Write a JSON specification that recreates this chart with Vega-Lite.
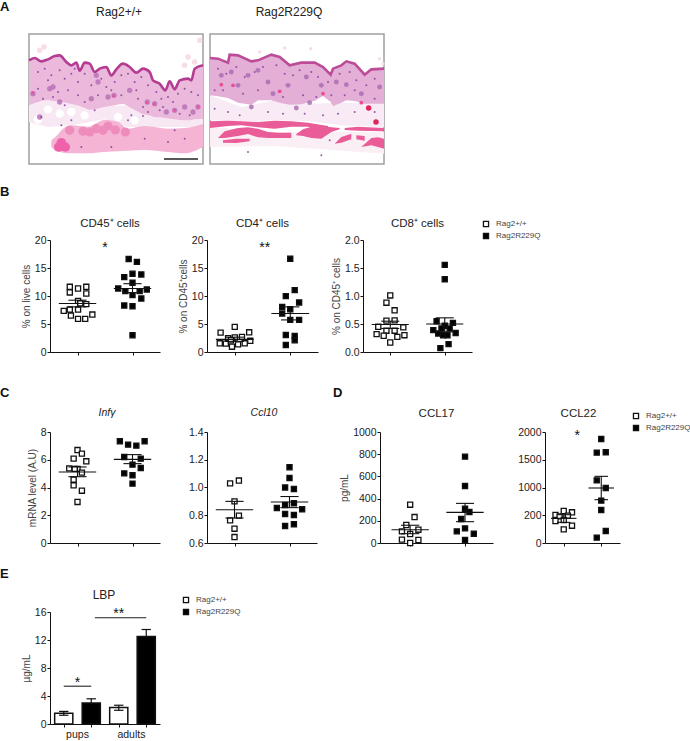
{"$schema":"https://vega.github.io/schema/vega-lite/v6.json","padding":0,"background":"white","spacing":0,
"config":{"view":{"stroke":null},"font":"Liberation Sans","axis":{"grid":false,"labelFont":"Liberation Sans","labelFontSize":10.5,"labelColor":"#222","titleFont":"Liberation Sans","titleFontSize":10,"titleColor":"#444","titleFontWeight":"normal","domainColor":"#111","tickColor":"#111","tickSize":3,"labelPadding":1,"titlePadding":3},"title":{"font":"Liberation Sans","fontSize":11.5,"fontWeight":"normal","color":"#222","offset":6},"legend":{"labelFont":"Liberation Sans","labelFontSize":8,"labelColor":"#444","symbolType":"square","symbolSize":26,"symbolStrokeColor":"#111","symbolStrokeWidth":1.3,"rowPadding":0,"labelOffset":6,"padding":0}},
"datasets":{
"a1s":[{"x":3,"t":85,"b":220},{"x":20,"t":78,"b":214},{"x":40,"t":88,"b":208},{"x":60,"t":82,"b":205},{"x":80,"t":72,"b":208},{"x":95,"t":70,"b":209},{"x":115,"t":90,"b":213},{"x":130,"t":100,"b":216},{"x":145,"t":92,"b":219},{"x":155,"t":116,"b":222},{"x":170,"t":92,"b":228},{"x":185,"t":95,"b":233},{"x":200,"t":120,"b":232},{"x":215,"t":110,"b":228},{"x":235,"t":105,"b":224},{"x":250,"t":130,"b":222},{"x":265,"t":112,"b":219},{"x":285,"t":95,"b":216},{"x":305,"t":105,"b":226},{"x":325,"t":122,"b":236},{"x":345,"t":110,"b":246},{"x":365,"t":120,"b":250},{"x":375,"t":145,"b":254},{"x":395,"t":155,"b":256},{"x":412,"t":175,"b":258},{"x":425,"t":148,"b":260},{"x":440,"t":172,"b":262},{"x":455,"t":145,"b":264},{"x":480,"t":140,"b":265},{"x":490,"t":145,"b":264},{"x":500,"t":110,"b":262},{"x":525,"t":100,"b":260}],
"a2s":[{"x":6,"t":78,"b":190},{"x":30,"t":80,"b":193},{"x":60,"t":92,"b":198},{"x":65,"t":68,"b":200},{"x":90,"t":70,"b":212},{"x":130,"t":88,"b":218},{"x":150,"t":85,"b":205},{"x":190,"t":68,"b":205},{"x":215,"t":75,"b":212},{"x":245,"t":100,"b":218},{"x":280,"t":92,"b":217},{"x":320,"t":92,"b":206},{"x":345,"t":105,"b":192},{"x":368,"t":128,"b":210},{"x":375,"t":110,"b":222},{"x":400,"t":100,"b":212},{"x":415,"t":88,"b":205},{"x":440,"t":95,"b":207},{"x":470,"t":128,"b":215},{"x":490,"t":112,"b":215},{"x":528,"t":110,"b":215}]
},
"bounds":"flush",
"resolve":{"scale":{"fill":"independent"},"legend":{"fill":"independent"}},
"vconcat":[
{"width":1,"height":34,"mark":{"type":"text","text":""},"data":{"values":[{}]},"encoding":{}},
{"spacing":0,"bounds":"flush","hconcat":[
{"width":29,"height":130,"data":{"values":[{"x":0,"y":-27,"t":"A"}]},"mark":{"type":"text","fontWeight":"bold","fontSize":13,"align":"left","color":"#111"},"encoding":{"x":{"field":"x","type":"quantitative","scale":{"domain":[0,29]},"axis":null},"y":{"field":"y","type":"quantitative","scale":{"domain":[130,0]},"axis":null},"text":{"field":"t"}}},
{"width":174,"height":130,"view":{"stroke":"#a0a0a0","strokeWidth":1.5},"title":{"text":"Rag2+/+","fontSize":12,"offset":15,"dx":3},
"encoding":{"x":{"field":"x","type":"quantitative","scale":{"domain":[3,525]},"axis":null},"y":{"field":"y","type":"quantitative","scale":{"domain":[396,6]},"axis":null}},
"layer":[
{"data":{"values":[{"x":3,"y":220,"y2":270},{"x":60,"y":205,"y2":285},{"x":130,"y":216,"y2":280},{"x":230,"y":224,"y2":262},{"x":300,"y":220,"y2":285},{"x":525,"y":260,"y2":285}]},"mark":{"type":"area","color":"#f7e8f3"},"encoding":{"y2":{"field":"y2"}}},
{"data":{"values":[{"x":130,"y":240},{"x":60,"y":232},{"x":170,"y":250},{"x":320,"y":265},{"x":95,"y":245},{"x":270,"y":255},{"x":30,"y":262}]},"mark":{"type":"point","filled":true,"color":"#ffffff","opacity":1,"size":70}},
{"data":{"values":[{"x":35,"y":55},{"x":480,"y":75},{"x":500,"y":90},{"x":515,"y":25},{"x":470,"y":100},{"x":48,"y":45}]},"mark":{"type":"point","filled":true,"color":"#f7dcea","opacity":1,"size":30}},
{"data":{"name":"a1s"},"mark":{"type":"area","color":"#ebb9db","interpolate":"monotone"},"encoding":{"y":{"field":"t","type":"quantitative","scale":{"domain":[396,6]},"axis":null},"y2":{"field":"b"}}},
{"data":{"values":[{"x":70,"y":325,"y2":345},{"x":85,"y":312,"y2":358},{"x":105,"y":290,"y2":362},{"x":130,"y":280,"y2":364},{"x":180,"y":284,"y2":364},{"x":230,"y":264,"y2":360},{"x":270,"y":270,"y2":358},{"x":300,"y":290,"y2":356},{"x":350,"y":282,"y2":354},{"x":420,"y":290,"y2":360},{"x":470,"y":288,"y2":364},{"x":525,"y":276,"y2":345}]},"mark":{"type":"area","color":"#f6b4d4","interpolate":"monotone"},"encoding":{"y2":{"field":"y2"}}},
{"data":{"values":[{"x":125,"y":295},{"x":165,"y":298},{"x":205,"y":290},{"x":240,"y":282},{"x":262,"y":294},{"x":292,"y":300},{"x":185,"y":300},{"x":225,"y":295}]},"mark":{"type":"point","filled":true,"color":"#ee8cbc","opacity":1,"size":85}},
{"data":{"values":[{"x":100,"y":332},{"x":112,"y":345},{"x":92,"y":345}]},"mark":{"type":"point","filled":true,"color":"#ee62aa","opacity":1,"size":90}},
{"data":{"name":"a1s"},"mark":{"type":"line","color":"#b43c92","strokeWidth":2.6,"interpolate":"monotone"},"encoding":{"y":{"field":"t","type":"quantitative","scale":{"domain":[396,6]},"axis":null}}},
{"data":{"values":[{"x":15,"y":185},{"x":65,"y":170},{"x":75,"y":165},{"x":190,"y":200},{"x":240,"y":195},{"x":258,"y":190},{"x":305,"y":175},{"x":358,"y":210},{"x":380,"y":215},{"x":440,"y":235},{"x":470,"y":225},{"x":510,"y":225},{"x":415,"y":240},{"x":495,"y":240},{"x":205,"y":130},{"x":210,"y":150},{"x":95,"y":210},{"x":35,"y":255}]},"mark":{"type":"point","filled":true,"color":"#b872b8","opacity":0.85,"size":28}},
{"data":{"values":[{"x":14,"y":182},{"x":356,"y":212},{"x":378,"y":216},{"x":510,"y":224},{"x":256,"y":192},{"x":440,"y":235}]},"mark":{"type":"point","filled":true,"color":"#ee4f9a","opacity":1,"size":7}},
{"data":{"values":[{"x":30,"y":120},{"x":50,"y":110},{"x":70,"y":130},{"x":95,"y":115},{"x":110,"y":140},{"x":130,"y":125},{"x":150,"y":150},{"x":170,"y":125},{"x":190,"y":160},{"x":220,"y":140},{"x":235,"y":165},{"x":260,"y":150},{"x":280,"y":130},{"x":300,"y":125},{"x":320,"y":150},{"x":340,"y":135},{"x":360,"y":160},{"x":385,"y":180},{"x":400,"y":200},{"x":420,"y":195},{"x":450,"y":185},{"x":470,"y":170},{"x":490,"y":180},{"x":510,"y":190},{"x":30,"y":170},{"x":45,"y":200},{"x":90,"y":180},{"x":120,"y":175},{"x":150,"y":190},{"x":170,"y":210},{"x":210,"y":190},{"x":280,"y":190},{"x":330,"y":200},{"x":345,"y":225},{"x":395,"y":235},{"x":455,"y":245},{"x":485,"y":250},{"x":40,"y":255},{"x":110,"y":220},{"x":130,"y":265},{"x":200,"y":235},{"x":310,"y":250},{"x":345,"y":252},{"x":360,"y":240},{"x":300,"y":265},{"x":100,"y":280},{"x":440,"y":295},{"x":350,"y":320},{"x":470,"y":320},{"x":160,"y":345},{"x":250,"y":345},{"x":420,"y":330},{"x":60,"y":145},{"x":140,"y":110},{"x":250,"y":175},{"x":325,"y":175},{"x":75,"y":195},{"x":435,"y":210},{"x":405,"y":225}]},"mark":{"type":"point","filled":true,"color":"#83409a","opacity":0.85,"size":4}},
{"data":{"values":[{"x":408,"x2":510,"y":381}]},"mark":{"type":"rule","color":"#222","strokeWidth":1.5},"encoding":{"x2":{"field":"x2"}}}
]},
{"width":7,"height":10,"mark":{"type":"text","text":""},"data":{"values":[{}]},"encoding":{}},
{"width":174,"height":130,"view":{"stroke":"#a0a0a0","strokeWidth":1.5},"title":{"text":"Rag2R229Q","fontSize":12,"offset":15,"dx":-8},
"encoding":{"x":{"field":"x","type":"quantitative","scale":{"domain":[6,528]},"axis":null},"y":{"field":"y","type":"quantitative","scale":{"domain":[396,6]},"axis":null}},
"layer":[
{"data":{"values":[{"x":6,"y":190,"y2":265},{"x":100,"y":225,"y2":268},{"x":200,"y":205,"y2":265},{"x":300,"y":215,"y2":268},{"x":400,"y":212,"y2":280},{"x":528,"y":215,"y2":285}]},"mark":{"type":"area","color":"#f8ebf5"},"encoding":{"y2":{"field":"y2"}}},
{"data":{"values":[{"x":6,"y":285,"y2":345},{"x":200,"y":300,"y2":342},{"x":528,"y":300,"y2":365}]},"mark":{"type":"area","color":"#fbeff6"},"encoding":{"y2":{"field":"y2"}}},
{"data":{"values":[{"x":155,"y":60},{"x":230,"y":48},{"x":308,"y":50},{"x":515,"y":80},{"x":525,"y":95}]},"mark":{"type":"point","filled":true,"color":"#f7dcea","opacity":1,"size":12}},
{"data":{"name":"a2s"},"mark":{"type":"area","color":"#e3afd6","interpolate":"linear"},"encoding":{"y":{"field":"t","type":"quantitative","scale":{"domain":[396,6]},"axis":null},"y2":{"field":"b"}}},
{"data":{"values":[{"k":"a","x":6,"y":268,"y2":288},{"k":"a","x":60,"y":266,"y2":282},{"k":"a","x":100,"y":268,"y2":280},{"k":"a","x":150,"y":270,"y2":286},{"k":"a","x":200,"y":266,"y2":290},{"k":"a","x":250,"y":268,"y2":284},{"k":"a","x":300,"y":272,"y2":284},{"k":"a","x":360,"y":282,"y2":298},{"k":"r","x":410,"y":288,"y2":294},{"k":"r","x":450,"y":284,"y2":296},{"k":"r","x":528,"y":288,"y2":298},{"k":"b","x":30,"y":318,"y2":318},{"k":"b","x":50,"y":298,"y2":318},{"k":"b","x":90,"y":288,"y2":312},{"k":"b","x":120,"y":286,"y2":306},{"k":"b","x":150,"y":290,"y2":316},{"k":"b","x":180,"y":300,"y2":318},{"k":"b","x":210,"y":302,"y2":318},{"k":"b","x":250,"y":302,"y2":318},{"k":"c","x":265,"y":306,"y2":310},{"k":"c","x":285,"y":292,"y2":312},{"k":"c","x":310,"y":284,"y2":318},{"k":"c","x":340,"y":282,"y2":320},{"k":"c","x":370,"y":286,"y2":300},{"k":"c","x":395,"y":288,"y2":292},{"k":"d","x":380,"y":335,"y2":335},{"k":"d","x":400,"y":315,"y2":332},{"k":"d","x":430,"y":305,"y2":322},{"k":"e","x":445,"y":310,"y2":322},{"k":"e","x":470,"y":312,"y2":326},{"k":"f","x":460,"y":345,"y2":345},{"k":"f","x":490,"y":318,"y2":340},{"k":"f","x":510,"y":316,"y2":345},{"k":"f","x":528,"y":320,"y2":350},{"k":"g","x":45,"y":325,"y2":332},{"k":"g","x":85,"y":320,"y2":333},{"k":"g","x":125,"y":320,"y2":328}]},"mark":{"type":"area","color":"#ea5c98"},"encoding":{"y2":{"field":"y2"},"detail":{"field":"k"}}},
{"data":{"name":"a2s"},"mark":{"type":"line","color":"#bc4c98","strokeWidth":2.6},"encoding":{"y":{"field":"t","type":"quantitative","scale":{"domain":[396,6]},"axis":null}}},
{"data":{"values":[{"x":305,"y":212},{"x":130,"y":225},{"x":265,"y":228},{"x":195,"y":185},{"x":415,"y":158},{"x":385,"y":150},{"x":150,"y":115},{"x":295,"y":135},{"x":240,"y":160},{"x":460,"y":185},{"x":515,"y":165},{"x":40,"y":130},{"x":120,"y":130},{"x":70,"y":120},{"x":90,"y":160},{"x":340,"y":160},{"x":180,"y":150}]},"mark":{"type":"point","filled":true,"color":"#a868b0","opacity":0.8,"size":24}},
{"data":{"values":[{"x":40,"y":158},{"x":215,"y":178},{"x":75,"y":160},{"x":460,"y":212},{"x":345,"y":185}]},"mark":{"type":"point","filled":true,"color":"#e8508f","opacity":1,"size":15}},
{"data":{"values":[{"x":504,"y":270},{"x":482,"y":228}]},"mark":{"type":"point","filled":true,"color":"#e0245e","opacity":1,"size":30}},
{"data":{"values":[{"x":30,"y":110},{"x":55,"y":125},{"x":85,"y":105},{"x":110,"y":135},{"x":140,"y":120},{"x":165,"y":105},{"x":205,"y":100},{"x":230,"y":125},{"x":255,"y":130},{"x":275,"y":115},{"x":310,"y":120},{"x":330,"y":135},{"x":360,"y":150},{"x":395,"y":125},{"x":425,"y":120},{"x":445,"y":145},{"x":475,"y":160},{"x":500,"y":140},{"x":20,"y":175},{"x":45,"y":175},{"x":105,"y":185},{"x":150,"y":175},{"x":225,"y":195},{"x":285,"y":190},{"x":325,"y":195},{"x":370,"y":190},{"x":410,"y":190},{"x":440,"y":175},{"x":500,"y":200},{"x":20,"y":230},{"x":60,"y":240},{"x":95,"y":250},{"x":180,"y":240},{"x":225,"y":245},{"x":290,"y":245},{"x":345,"y":250},{"x":390,"y":245},{"x":440,"y":240},{"x":500,"y":240},{"x":365,"y":325},{"x":120,"y":360},{"x":340,"y":370}]},"mark":{"type":"point","filled":true,"color":"#83409a","opacity":0.85,"size":4}}
]}
],"resolve":{"scale":{"fill":"independent"},"legend":{"fill":"independent"}}},
{"width":1,"height":206,"mark":{"type":"text","text":""},"data":{"values":[{}]},"encoding":{}},
{"spacing":0,"bounds":"flush","resolve":{"scale":{"fill":"independent"},"legend":{"fill":"independent"}},"hconcat":[
{"width":50,"height":112,"data":{"values":[{"x":0,"y":-48,"t":"B"}]},"mark":{"type":"text","fontWeight":"bold","fontSize":13,"align":"left","color":"#111"},"encoding":{"x":{"field":"x","type":"quantitative","scale":{"domain":[0,50]},"axis":null},"y":{"field":"y","type":"quantitative","scale":{"domain":[112,0]},"axis":null},"text":{"field":"t"}}},
{"width":110,"height":112,"title":{"text":"CD45⁺ cells","dx":5},
"encoding":{"x":{"field":"x","type":"quantitative","scale":{"domain":[0.5,2.5]},"axis":{"values":[1,2],"labels":false,"title":null}},"y":{"field":"y","type":"quantitative","scale":{"domain":[0,20]},"axis":{"values":[0,5,10,15,20],"title":"% on live cells"}}},
"layer":[
{"data":{"values":[{"x":0.86,"y":11.64,"g":"Rag2+/+"},{"x":1.16,"y":11.64,"g":"Rag2+/+"},{"x":1.01,"y":11.34,"g":"Rag2+/+"},{"x":0.86,"y":10.63,"g":"Rag2+/+"},{"x":1.16,"y":10.45,"g":"Rag2+/+"},{"x":1.01,"y":9.13,"g":"Rag2+/+"},{"x":1.16,"y":8.54,"g":"Rag2+/+"},{"x":1.05,"y":8.7,"g":"Rag2+/+"},{"x":0.75,"y":7.34,"g":"Rag2+/+"},{"x":0.86,"y":7.58,"g":"Rag2+/+"},{"x":1.01,"y":7.58,"g":"Rag2+/+"},{"x":1.27,"y":6.69,"g":"Rag2+/+"},{"x":0.88,"y":6.51,"g":"Rag2+/+"},{"x":1.01,"y":5.91,"g":"Rag2+/+"},{"x":1.14,"y":5.91,"g":"Rag2+/+"},{"x":1.93,"y":16.6,"g":"Rag2R229Q"},{"x":2.08,"y":16.1,"g":"Rag2R229Q"},{"x":2,"y":13.97,"g":"Rag2R229Q"},{"x":2.16,"y":13.85,"g":"Rag2R229Q"},{"x":1.85,"y":13.37,"g":"Rag2R229Q"},{"x":2,"y":12.36,"g":"Rag2R229Q"},{"x":1.74,"y":11.34,"g":"Rag2R229Q"},{"x":1.87,"y":10.87,"g":"Rag2R229Q"},{"x":2.13,"y":10.87,"g":"Rag2R229Q"},{"x":2.26,"y":11.16,"g":"Rag2R229Q"},{"x":2,"y":10.15,"g":"Rag2R229Q"},{"x":2.16,"y":9.55,"g":"Rag2R229Q"},{"x":1.85,"y":8.3,"g":"Rag2R229Q"},{"x":2,"y":8.18,"g":"Rag2R229Q"},{"x":2,"y":2.99,"g":"Rag2R229Q"}]},"mark":{"type":"point","shape":"square","filled":true,"size":26,"stroke":"#111","strokeWidth":1.3,"opacity":1},"encoding":{"fill":{"field":"g","type":"nominal","scale":{"domain":["Rag2+/+","Rag2R229Q"],"range":["#ffffff","#000000"]},"legend":null}}},
{"data":{"values":[{"x":0.66,"x2":1.34,"y":8.66,"y2":8.66},{"x":0.835,"x2":1.165,"y":9.25,"y2":9.25},{"x":0.835,"x2":1.165,"y":8.06,"y2":8.06},{"x":1,"x2":1,"y":8.06,"y2":9.25},{"x":1.66,"x2":2.34,"y":11.34,"y2":11.34},{"x":1.835,"x2":2.165,"y":12.2,"y2":12.2},{"x":1.835,"x2":2.165,"y":10.6,"y2":10.6},{"x":2,"x2":2,"y":10.6,"y2":12.2}]},"mark":{"type":"rule","color":"#111","strokeWidth":1.1},"encoding":{"x2":{"field":"x2"},"y2":{"field":"y2"}}},
{"data":{"values":[{"x":1.5,"y":18.6,"t":"*"}]},"mark":{"type":"text","fontSize":14,"color":"#111"},"encoding":{"text":{"field":"t"}}}
]},
{"width":47,"height":10,"mark":{"type":"text","text":""},"data":{"values":[{}]},"encoding":{}},
{"width":111,"height":112,"title":{"text":"CD4⁺ cells"},
"encoding":{"x":{"field":"x","type":"quantitative","scale":{"domain":[0.5,2.5]},"axis":{"values":[1,2],"labels":false,"title":null}},"y":{"field":"y","type":"quantitative","scale":{"domain":[0,20]},"axis":{"values":[0,5,10,15,20],"title":"% on CD45⁺cells"}}},
"layer":[
{"data":{"values":[{"x":0.745,"y":3.46,"g":"Rag2+/+"},{"x":1,"y":4.48,"g":"Rag2+/+"},{"x":1.26,"y":3.52,"g":"Rag2+/+"},{"x":0.73,"y":1.55,"g":"Rag2+/+"},{"x":0.84,"y":1.5,"g":"Rag2+/+"},{"x":0.88,"y":2.46,"g":"Rag2+/+"},{"x":1,"y":2.6,"g":"Rag2+/+"},{"x":1.13,"y":2.7,"g":"Rag2+/+"},{"x":1.06,"y":1.37,"g":"Rag2+/+"},{"x":0.95,"y":0.95,"g":"Rag2+/+"},{"x":1.18,"y":1.55,"g":"Rag2+/+"},{"x":1.28,"y":2,"g":"Rag2+/+"},{"x":0.93,"y":2.1,"g":"Rag2+/+"},{"x":2,"y":16.66,"g":"Rag2R229Q"},{"x":2.08,"y":11.04,"g":"Rag2R229Q"},{"x":1.92,"y":9.97,"g":"Rag2R229Q"},{"x":2.16,"y":8.84,"g":"Rag2R229Q"},{"x":1.855,"y":8.06,"g":"Rag2R229Q"},{"x":2,"y":7.64,"g":"Rag2R229Q"},{"x":1.855,"y":6.87,"g":"Rag2R229Q"},{"x":2,"y":5.73,"g":"Rag2R229Q"},{"x":2.16,"y":5.73,"g":"Rag2R229Q"},{"x":1.92,"y":3.04,"g":"Rag2R229Q"},{"x":2.08,"y":2.87,"g":"Rag2R229Q"},{"x":2.08,"y":2.09,"g":"Rag2R229Q"},{"x":1.92,"y":1.25,"g":"Rag2R229Q"}]},"mark":{"type":"point","shape":"square","filled":true,"size":26,"stroke":"#111","strokeWidth":1.3,"opacity":1},"encoding":{"fill":{"field":"g","type":"nominal","scale":{"domain":["Rag2+/+","Rag2R229Q"],"range":["#ffffff","#000000"]},"legend":null}}},
{"data":{"values":[{"x":0.66,"x2":1.34,"y":2.25,"y2":2.25},{"x":0.835,"x2":1.165,"y":2.65,"y2":2.65},{"x":0.835,"x2":1.165,"y":1.9,"y2":1.9},{"x":1,"x2":1,"y":1.9,"y2":2.65},{"x":1.66,"x2":2.34,"y":6.87,"y2":6.87},{"x":1.835,"x2":2.165,"y":8.06,"y2":8.06},{"x":1.835,"x2":2.165,"y":5.73,"y2":5.73},{"x":2,"x2":2,"y":5.73,"y2":8.06}]},"mark":{"type":"rule","color":"#111","strokeWidth":1.1},"encoding":{"x2":{"field":"x2"},"y2":{"field":"y2"}}},
{"data":{"values":[{"x":1.54,"y":18.6,"t":"**"}]},"mark":{"type":"text","fontSize":14,"color":"#111"},"encoding":{"text":{"field":"t"}}}
]},
{"width":45,"height":10,"mark":{"type":"text","text":""},"data":{"values":[{}]},"encoding":{}},
{"width":109,"height":112,"title":{"text":"CD8⁺ cells","offset":-9},
"encoding":{"x":{"field":"x","type":"quantitative","scale":{"domain":[0.5,2.5]},"axis":{"values":[1,2],"labels":false,"title":null}},"y":{"field":"y","type":"quantitative","scale":{"domain":[0,2]},"axis":{"values":[0,0.5,1,1.5,2],"format":".1f","title":"% on CD45⁺ cells"}}},
"layer":[
{"data":{"values":[{"x":1,"y":1.01,"g":"Rag2+/+"},{"x":0.93,"y":0.88,"g":"Rag2+/+"},{"x":1.08,"y":0.745,"g":"Rag2+/+"},{"x":0.93,"y":0.56,"g":"Rag2+/+"},{"x":1.08,"y":0.565,"g":"Rag2+/+"},{"x":0.78,"y":0.45,"g":"Rag2+/+"},{"x":0.93,"y":0.38,"g":"Rag2+/+"},{"x":1.08,"y":0.38,"g":"Rag2+/+"},{"x":1.24,"y":0.44,"g":"Rag2+/+"},{"x":0.75,"y":0.32,"g":"Rag2+/+"},{"x":1.26,"y":0.3,"g":"Rag2+/+"},{"x":0.88,"y":0.29,"g":"Rag2+/+"},{"x":1.13,"y":0.27,"g":"Rag2+/+"},{"x":1,"y":0.17,"g":"Rag2+/+"},{"x":2,"y":1.555,"g":"Rag2R229Q"},{"x":2,"y":1.3,"g":"Rag2R229Q"},{"x":1.85,"y":0.55,"g":"Rag2R229Q"},{"x":2.15,"y":0.52,"g":"Rag2R229Q"},{"x":2,"y":0.47,"g":"Rag2R229Q"},{"x":1.79,"y":0.39,"g":"Rag2R229Q"},{"x":2.09,"y":0.42,"g":"Rag2R229Q"},{"x":1.88,"y":0.33,"g":"Rag2R229Q"},{"x":1.97,"y":0.3,"g":"Rag2R229Q"},{"x":2.2,"y":0.34,"g":"Rag2R229Q"},{"x":2.05,"y":0.3,"g":"Rag2R229Q"},{"x":2.07,"y":0.14,"g":"Rag2R229Q"},{"x":1.92,"y":0.07,"g":"Rag2R229Q"},{"x":1.94,"y":0.42,"g":"Rag2R229Q"}]},"mark":{"type":"point","shape":"square","filled":true,"size":26,"stroke":"#111","strokeWidth":1.3,"opacity":1},"encoding":{"fill":{"field":"g","type":"nominal","scale":{"domain":["Rag2+/+","Rag2R229Q"],"range":["#ffffff","#000000"]},"legend":{"orient":"none","legendX":119,"legendY":-20,"title":null}}}},
{"data":{"values":[{"x":0.66,"x2":1.34,"y":0.49,"y2":0.49},{"x":0.835,"x2":1.165,"y":0.55,"y2":0.55},{"x":0.835,"x2":1.165,"y":0.42,"y2":0.42},{"x":1,"x2":1,"y":0.42,"y2":0.55},{"x":1.66,"x2":2.34,"y":0.5,"y2":0.5},{"x":1.835,"x2":2.165,"y":0.61,"y2":0.61},{"x":1.835,"x2":2.165,"y":0.36,"y2":0.36},{"x":2,"x2":2,"y":0.36,"y2":0.61}]},"mark":{"type":"rule","color":"#111","strokeWidth":1.1},"encoding":{"x2":{"field":"x2"},"y2":{"field":"y2"}}}
]}
]},
{"width":1,"height":192,"mark":{"type":"text","text":""},"data":{"values":[{}]},"encoding":{}},
{"spacing":0,"bounds":"flush","resolve":{"scale":{"fill":"independent"},"legend":{"fill":"independent"}},"hconcat":[
{"width":50,"height":111,"data":{"values":[{"x":0,"y":-39,"t":"C"}]},"mark":{"type":"text","fontWeight":"bold","fontSize":13,"align":"left","color":"#111"},"encoding":{"x":{"field":"x","type":"quantitative","scale":{"domain":[0,50]},"axis":null},"y":{"field":"y","type":"quantitative","scale":{"domain":[111,0]},"axis":null},"text":{"field":"t"}}},
{"width":110,"height":111,"title":{"text":"Infγ","fontStyle":"italic","fontSize":10.5,"offset":9,"dx":2},
"encoding":{"x":{"field":"x","type":"quantitative","scale":{"domain":[0.5,2.5]},"axis":{"values":[1,2],"labels":false,"title":null}},"y":{"field":"y","type":"quantitative","scale":{"domain":[0,8]},"axis":{"values":[0,2,4,6,8],"title":"mRNA level (A.U)"}}},
"layer":[
{"data":{"values":[{"x":1,"y":6.7,"g":"Rag2+/+"},{"x":1.08,"y":6.44,"g":"Rag2+/+"},{"x":0.93,"y":6.08,"g":"Rag2+/+"},{"x":1.16,"y":5.89,"g":"Rag2+/+"},{"x":0.85,"y":5.38,"g":"Rag2+/+"},{"x":1,"y":5.34,"g":"Rag2+/+"},{"x":0.95,"y":5.34,"g":"Rag2+/+"},{"x":1.08,"y":5.07,"g":"Rag2+/+"},{"x":0.93,"y":4.57,"g":"Rag2+/+"},{"x":0.93,"y":4.16,"g":"Rag2+/+"},{"x":1.08,"y":3.77,"g":"Rag2+/+"},{"x":1,"y":2.96,"g":"Rag2+/+"},{"x":1.77,"y":7.33,"g":"Rag2R229Q"},{"x":2.22,"y":7.33,"g":"Rag2R229Q"},{"x":1.92,"y":7.09,"g":"Rag2R229Q"},{"x":2.07,"y":7.02,"g":"Rag2R229Q"},{"x":1.85,"y":6.2,"g":"Rag2R229Q"},{"x":2.15,"y":6.08,"g":"Rag2R229Q"},{"x":2,"y":5.65,"g":"Rag2R229Q"},{"x":2.15,"y":5.41,"g":"Rag2R229Q"},{"x":1.85,"y":5.02,"g":"Rag2R229Q"},{"x":2,"y":4.88,"g":"Rag2R229Q"},{"x":2,"y":4.28,"g":"Rag2R229Q"}]},"mark":{"type":"point","shape":"square","filled":true,"size":26,"stroke":"#111","strokeWidth":1.3,"opacity":1},"encoding":{"fill":{"field":"g","type":"nominal","scale":{"domain":["Rag2+/+","Rag2R229Q"],"range":["#ffffff","#000000"]},"legend":null}}},
{"data":{"values":[{"x":0.66,"x2":1.34,"y":5.12,"y2":5.12},{"x":0.835,"x2":1.165,"y":5.48,"y2":5.48},{"x":0.835,"x2":1.165,"y":4.78,"y2":4.78},{"x":1,"x2":1,"y":4.78,"y2":5.48},{"x":1.66,"x2":2.34,"y":6.03,"y2":6.03},{"x":1.835,"x2":2.165,"y":6.37,"y2":6.37},{"x":1.835,"x2":2.165,"y":5.72,"y2":5.72},{"x":2,"x2":2,"y":5.72,"y2":6.37}]},"mark":{"type":"rule","color":"#111","strokeWidth":1.1},"encoding":{"x2":{"field":"x2"},"y2":{"field":"y2"}}}
]},
{"width":47,"height":10,"mark":{"type":"text","text":""},"data":{"values":[{}]},"encoding":{}},
{"width":110,"height":111,"title":{"text":"Ccl10","fontStyle":"italic","fontSize":10.5,"offset":9,"dx":2},
"encoding":{"x":{"field":"x","type":"quantitative","scale":{"domain":[0.5,2.5]},"axis":{"values":[1,2],"labels":false,"title":null}},"y":{"field":"y","type":"quantitative","scale":{"domain":[0.6,1.4],"zero":false},"axis":{"values":[0.6,0.8,1,1.2,1.4],"format":".1f","title":null}}},
"layer":[
{"data":{"values":[{"x":1.08,"y":1.05,"g":"Rag2+/+"},{"x":0.92,"y":1.03,"g":"Rag2+/+"},{"x":1,"y":0.9,"g":"Rag2+/+"},{"x":1.08,"y":0.797,"g":"Rag2+/+"},{"x":0.92,"y":0.763,"g":"Rag2+/+"},{"x":1,"y":0.703,"g":"Rag2+/+"},{"x":1,"y":0.643,"g":"Rag2+/+"},{"x":2,"y":1.146,"g":"Rag2R229Q"},{"x":2,"y":1.069,"g":"Rag2R229Q"},{"x":1.92,"y":1,"g":"Rag2R229Q"},{"x":2.08,"y":0.989,"g":"Rag2R229Q"},{"x":1.92,"y":0.874,"g":"Rag2R229Q"},{"x":2.08,"y":0.886,"g":"Rag2R229Q"},{"x":1.77,"y":0.852,"g":"Rag2R229Q"},{"x":2.23,"y":0.843,"g":"Rag2R229Q"},{"x":1.92,"y":0.809,"g":"Rag2R229Q"},{"x":2.08,"y":0.802,"g":"Rag2R229Q"},{"x":2.08,"y":0.735,"g":"Rag2R229Q"},{"x":1.92,"y":0.723,"g":"Rag2R229Q"}]},"mark":{"type":"point","shape":"square","filled":true,"size":26,"stroke":"#111","strokeWidth":1.3,"opacity":1},"encoding":{"fill":{"field":"g","type":"nominal","scale":{"domain":["Rag2+/+","Rag2R229Q"],"range":["#ffffff","#000000"]},"legend":null}}},
{"data":{"values":[{"x":0.66,"x2":1.34,"y":0.84,"y2":0.84},{"x":0.835,"x2":1.165,"y":0.9,"y2":0.9},{"x":0.835,"x2":1.165,"y":0.78,"y2":0.78},{"x":1,"x2":1,"y":0.78,"y2":0.9},{"x":1.66,"x2":2.34,"y":0.896,"y2":0.896},{"x":1.835,"x2":2.165,"y":0.935,"y2":0.935},{"x":1.835,"x2":2.165,"y":0.855,"y2":0.855},{"x":2,"x2":2,"y":0.855,"y2":0.935}]},"mark":{"type":"rule","color":"#111","strokeWidth":1.1},"encoding":{"x2":{"field":"x2"},"y2":{"field":"y2"}}}
]},
{"width":63,"height":111,"data":{"values":[{"x":16,"y":-39,"t":"D"}]},"mark":{"type":"text","fontWeight":"bold","fontSize":13,"align":"left","color":"#111"},"encoding":{"x":{"field":"x","type":"quantitative","scale":{"domain":[0,63]},"axis":null},"y":{"field":"y","type":"quantitative","scale":{"domain":[111,0]},"axis":null},"text":{"field":"t"}}},
{"width":113,"height":111,"title":{"text":"CCL17","offset":8},
"encoding":{"x":{"field":"x","type":"quantitative","scale":{"domain":[0.45,2.51]},"axis":{"values":[1,2],"labels":false,"title":null}},"y":{"field":"y","type":"quantitative","scale":{"domain":[0,1000]},"axis":{"values":[0,200,400,600,800,1000],"format":"d","title":"pg/mL"}}},
"layer":[
{"data":{"values":[{"x":1,"y":345,"g":"Rag2+/+"},{"x":1.08,"y":234,"g":"Rag2+/+"},{"x":0.93,"y":162,"g":"Rag2+/+"},{"x":0.85,"y":105,"g":"Rag2+/+"},{"x":1.15,"y":120,"g":"Rag2+/+"},{"x":1,"y":81,"g":"Rag2+/+"},{"x":0.85,"y":30,"g":"Rag2+/+"},{"x":1.15,"y":27,"g":"Rag2+/+"},{"x":1,"y":0,"g":"Rag2+/+"},{"x":2,"y":778,"g":"Rag2R229Q"},{"x":2,"y":514,"g":"Rag2R229Q"},{"x":2,"y":309,"g":"Rag2R229Q"},{"x":2.08,"y":279,"g":"Rag2R229Q"},{"x":1.93,"y":216,"g":"Rag2R229Q"},{"x":2,"y":132,"g":"Rag2R229Q"},{"x":1.85,"y":105,"g":"Rag2R229Q"},{"x":2.16,"y":84,"g":"Rag2R229Q"},{"x":2,"y":27,"g":"Rag2R229Q"}]},"mark":{"type":"point","shape":"square","filled":true,"size":26,"stroke":"#111","strokeWidth":1.3,"opacity":1,"clip":false},"encoding":{"fill":{"field":"g","type":"nominal","scale":{"domain":["Rag2+/+","Rag2R229Q"],"range":["#ffffff","#000000"]},"legend":null}}},
{"data":{"values":[{"x":0.66,"x2":1.34,"y":120,"y2":120},{"x":0.835,"x2":1.165,"y":160,"y2":160},{"x":0.835,"x2":1.165,"y":84,"y2":84},{"x":1,"x2":1,"y":84,"y2":160},{"x":1.66,"x2":2.34,"y":276,"y2":276},{"x":1.835,"x2":2.165,"y":357,"y2":357},{"x":1.835,"x2":2.165,"y":192,"y2":192},{"x":2,"x2":2,"y":192,"y2":357}]},"mark":{"type":"rule","color":"#111","strokeWidth":1.1},"encoding":{"x2":{"field":"x2"},"y2":{"field":"y2"}}}
]},
{"width":52,"height":10,"mark":{"type":"text","text":""},"data":{"values":[{}]},"encoding":{}},
{"width":75,"height":111,"title":{"text":"CCL22","offset":-7,"dx":-4},
"encoding":{"x":{"field":"x","type":"quantitative","scale":{"domain":[0.5,2.5]},"axis":{"values":[1,2],"labels":false,"title":null}},"y":{"field":"y","type":"quantitative","scale":{"domain":[0,2000]},"axis":{"values":[0,500,1000,1500,2000],"labelExpr":"datum.value==500?'200':datum.label","format":"d","title":null}}},
"layer":[
{"data":{"values":[{"x":1,"y":577,"g":"Rag2+/+"},{"x":1.22,"y":553,"g":"Rag2+/+"},{"x":0.78,"y":505,"g":"Rag2+/+"},{"x":1.11,"y":493,"g":"Rag2+/+"},{"x":0.89,"y":480,"g":"Rag2+/+"},{"x":0.78,"y":396,"g":"Rag2+/+"},{"x":1,"y":414,"g":"Rag2+/+"},{"x":1.22,"y":312,"g":"Rag2+/+"},{"x":1,"y":246,"g":"Rag2+/+"},{"x":2,"y":1874,"g":"Rag2R229Q"},{"x":1.88,"y":1628,"g":"Rag2R229Q"},{"x":2.12,"y":1634,"g":"Rag2R229Q"},{"x":1.88,"y":1129,"g":"Rag2R229Q"},{"x":2.12,"y":991,"g":"Rag2R229Q"},{"x":2,"y":763,"g":"Rag2R229Q"},{"x":2,"y":595,"g":"Rag2R229Q"},{"x":2.12,"y":216,"g":"Rag2R229Q"},{"x":1.88,"y":96,"g":"Rag2R229Q"}]},"mark":{"type":"point","shape":"square","filled":true,"size":26,"stroke":"#111","strokeWidth":1.3,"opacity":1},"encoding":{"fill":{"field":"g","type":"nominal","scale":{"domain":["Rag2+/+","Rag2R229Q"],"range":["#ffffff","#000000"]},"legend":{"orient":"none","legendX":87,"legendY":-20,"title":null}}}},
{"data":{"values":[{"x":0.66,"x2":1.34,"y":444,"y2":444},{"x":0.82,"x2":1.18,"y":510,"y2":510},{"x":0.82,"x2":1.18,"y":372,"y2":372},{"x":1,"x2":1,"y":372,"y2":510},{"x":1.66,"x2":2.34,"y":991,"y2":991},{"x":1.82,"x2":2.18,"y":1201,"y2":1201},{"x":1.82,"x2":2.18,"y":781,"y2":781},{"x":2,"x2":2,"y":781,"y2":1201}]},"mark":{"type":"rule","color":"#111","strokeWidth":1.1},"encoding":{"x2":{"field":"x2"},"y2":{"field":"y2"}}},
{"data":{"values":[{"x":1.36,"y":1920,"t":"*"}]},"mark":{"type":"text","fontSize":14,"color":"#111"},"encoding":{"text":{"field":"t"}}}
]}
]},
{"width":1,"height":180,"mark":{"type":"text","text":""},"data":{"values":[{}]},"encoding":{}},
{"spacing":0,"bounds":"flush","resolve":{"scale":{"fill":"independent"},"legend":{"fill":"independent"}},"hconcat":[
{"width":50,"height":112,"data":{"values":[{"x":0,"y":-38,"t":"E"}]},"mark":{"type":"text","fontWeight":"bold","fontSize":13,"align":"left","color":"#111"},"encoding":{"x":{"field":"x","type":"quantitative","scale":{"domain":[0,50]},"axis":null},"y":{"field":"y","type":"quantitative","scale":{"domain":[112,0]},"axis":null},"text":{"field":"t"}}},
{"width":110,"height":112,"title":{"text":"LBP","fontSize":12,"offset":-6,"dx":-1},
"encoding":{"x":{"field":"x","type":"quantitative","scale":{"domain":[0.5,4.5]},"axis":{"values":[1,2,3,4],"labels":false,"title":null}},"y":{"field":"y","type":"quantitative","scale":{"domain":[0,16]},"axis":{"values":[0,4,8,12,16],"title":"µg/mL"}}},
"layer":[
{"data":{"values":[{"x":0.67,"x2":1.33,"y":1.55,"y0":0,"g":"Rag2+/+"},{"x":1.67,"x2":2.33,"y":3,"y0":0,"g":"Rag2R229Q"},{"x":2.67,"x2":3.33,"y":2.35,"y0":0,"g":"Rag2+/+"},{"x":3.67,"x2":4.33,"y":12.5,"y0":0,"g":"Rag2R229Q"}]},"mark":{"type":"rect","stroke":"#111","strokeWidth":1.5},"encoding":{"x2":{"field":"x2"},"y2":{"field":"y0"},"fill":{"field":"g","type":"nominal","scale":{"domain":["Rag2+/+","Rag2R229Q"],"range":["#ffffff","#000000"]},"legend":{"orient":"none","legendX":132,"legendY":-16,"title":null}}}},
{"data":{"values":[{"x":0.83,"x2":1.17,"y":1.8,"y2":1.8},{"x":0.83,"x2":1.17,"y":1.25,"y2":1.25},{"x":1,"x2":1,"y":1.25,"y2":1.8},{"x":1.83,"x2":2.17,"y":3.6,"y2":3.6},{"x":2,"x2":2,"y":3,"y2":3.6},{"x":2.83,"x2":3.17,"y":2.68,"y2":2.68},{"x":2.83,"x2":3.17,"y":1.96,"y2":1.96},{"x":3,"x2":3,"y":1.96,"y2":2.68},{"x":3.83,"x2":4.17,"y":13.5,"y2":13.5},{"x":4,"x2":4,"y":12.5,"y2":13.5}]},"mark":{"type":"rule","color":"#111","strokeWidth":1.2},"encoding":{"x2":{"field":"x2"},"y2":{"field":"y2"}}},
{"data":{"values":[{"x":1,"x2":2,"y":5.4,"y2":5.4},{"x":2.13,"x2":4,"y":15.17,"y2":15.17}]},"mark":{"type":"rule","color":"#222","strokeWidth":1.1},"encoding":{"x2":{"field":"x2"},"y2":{"field":"y2"}}},
{"data":{"values":[{"x":1.5,"y":5.8,"t":"*"},{"x":3,"y":15.7,"t":"**"}]},"mark":{"type":"text","fontSize":14,"color":"#111"},"encoding":{"text":{"field":"t"}}},
{"data":{"values":[{"x":1.5,"y":-1.6,"t":"pups"},{"x":3.46,"y":-1.6,"t":"adults"}]},"mark":{"type":"text","fontSize":10.5,"color":"#222"},"encoding":{"text":{"field":"t"}}}
]}
]}
]}
